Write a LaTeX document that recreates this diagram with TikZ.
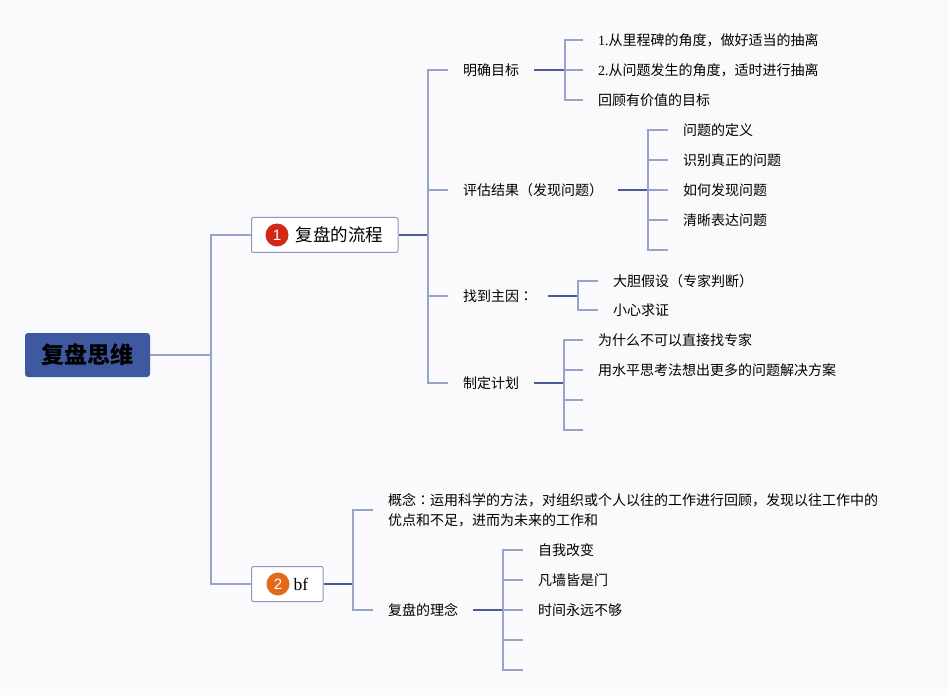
\documentclass[tikz,border=0pt]{standalone}
\usepackage{fontspec}
\setmainfont{Noto Sans CJK SC}
\newfontfamily\latinfont{Liberation Serif}
\newfontfamily\digitfont{Liberation Sans}
\newfontfamily\tcfont{Noto Sans CJK TC}
\usepackage{tikz}
\definecolor{paper}{HTML}{FAFAFC}
\definecolor{rootblue}{HTML}{3F59A0}
\definecolor{trunkblue}{HTML}{4A5B97}
\definecolor{stubblue}{HTML}{98A3CB}
\definecolor{boxline}{HTML}{8C98C2}
\definecolor{badgered}{HTML}{D42817}
\definecolor{badgeorange}{HTML}{E2691C}

\begin{document}
\begin{tikzpicture}[x=1pt, y=-1pt,
  root/.style={fill=rootblue, rounded corners=3pt, minimum width=125pt, minimum height=44pt, font=\fontsize{23}{28}\selectfont\bfseries},
  topic/.style={draw=boxline, fill=white, line width=1pt, rounded corners=2pt, minimum height=35pt, inner xsep=15pt, anchor=west, font=\fontsize{17.5}{21}\selectfont},
  badge/.style={circle, inner sep=0pt, minimum size=23pt, text=white, font=\digitfont\fontsize{15}{18}\selectfont},
  leaf/.style={anchor=west, inner xsep=15pt, inner ysep=0pt, font=\fontsize{14}{20}\selectfont},
  trunk/.style={trunkblue, line width=1.5pt},
  stub/.style={stubblue, line width=1.5pt}]
\fill [paper] (0,0) rectangle (948,695);
%
\node [root] (root) at (87.5,355) {复盘思维};
\node [topic] (flow) at (251,235) {\hspace*{29pt}复盘的流程};
\node [badge, fill=badgered] (flowbadge) at ([xshift=26pt]flow.west) {1};
\node [topic] (bf) at (251,584) {\hspace*{27pt}{\latinfont bf}};
\node [badge, fill=badgeorange] (bfbadge) at ([xshift=27pt]bf.west) {2};
%
\coordinate (sproot) at (211,355);
\draw [stub] (root.east) -- (sproot);
\draw [stub] (flow.west) -| (sproot);
\draw [stub] (bf.west) -| (sproot);
%%%%%%%%%%%%%%%%%%%%%%%%%%%%%%%
\node [leaf] (goal)  at (448,70)  {明确目标};
\node [leaf] (eval)  at (448,190) {评估结果（发现问题）};
\node [leaf] (cause) at (448,296) {找到主因{\tcfont ：}};
\node [leaf] (plan)  at (448,383) {制定计划};
\coordinate (spflow) at (428,235);
\draw [trunk] (flow.east) -- (spflow);
\foreach \n in {goal,eval,cause,plan} \draw [stub] (\n.west) -| (spflow);
%
\node [leaf] (goal1) at (583,40)  {{\latinfont 1.}从里程碑的角度，做好适当的抽离};
\node [leaf] (goal2) at (583,70)  {{\latinfont 2.}从问题发生的角度，适时进行抽离};
\node [leaf] (goal3) at (583,100) {回顾有价值的目标};
\coordinate (spgoal) at (565,70);
\draw [trunk] (goal.east) -- (spgoal);
\foreach \n in {goal1,goal2,goal3} \draw [stub] (\n.west) -| (spgoal);
%
\node [leaf] (eval1) at (668,130) {问题的定义};
\node [leaf] (eval2) at (668,160) {识别真正的问题};
\node [leaf] (eval3) at (668,190) {如何发现问题};
\node [leaf] (eval4) at (668,220) {清晰表达问题};
\node [leaf] (eval5) at (668,250) {};
\coordinate (speval) at (648,190);
\draw [trunk] (eval.east) -- (speval);
\foreach \n in {eval1,eval2,eval3,eval4,eval5} \draw [stub] (\n.west) -| (speval);
%
\node [leaf] (cause1) at (598,281) {大胆假设（专家判断）};
\node [leaf] (cause2) at (598,310) {小心求证};
\coordinate (spcause) at (578,296);
\draw [trunk] (cause.east) -- (spcause);
\foreach \n in {cause1,cause2} \draw [stub] (\n.west) -| (spcause);
%
\node [leaf] (plan1) at (583,340) {为什么不可以直接找专家};
\node [leaf] (plan2) at (583,370) {用水平思考法想出更多的问题解决方案};
\node [leaf] (plan3) at (583,400) {};
\node [leaf] (plan4) at (583,430) {};
\coordinate (spplan) at (564,383);
\draw [trunk] (plan.east) -- (spplan);
\foreach \n in {plan1,plan2,plan3,plan4} \draw [stub] (\n.west) -| (spplan);
%%%%%%%%%%%%%%%%%%%%%%%%%%%%%%%
\node [leaf, align=left] (concept) at (373,510) {概念{\tcfont ：}运用科学的方法，对组织或个人以往的工作进行回顾，发现以往工作中的\\优点和不足，进而为未来的工作和};
\node [leaf] (idea) at (373,610) {复盘的理念};
\coordinate (spbf) at (353,584);
\draw [trunk] (bf.east) -- (spbf);
\foreach \n in {concept,idea} \draw [stub] (\n.west) -| (spbf);
%
\node [leaf] (idea1) at (523,550) {自我改变};
\node [leaf] (idea2) at (523,580) {凡墙皆是门};
\node [leaf] (idea3) at (523,610) {时间永远不够};
\node [leaf] (idea4) at (523,640) {};
\node [leaf] (idea5) at (523,670) {};
\coordinate (spidea) at (503,610);
\draw [trunk] (idea.east) -- (spidea);
\foreach \n in {idea1,idea2,idea3,idea4,idea5} \draw [stub] (\n.west) -| (spidea);
%%%%%%%%%%%%%%%%%%%%%%%%%%%%%%%
\end{tikzpicture}
\end{document}
